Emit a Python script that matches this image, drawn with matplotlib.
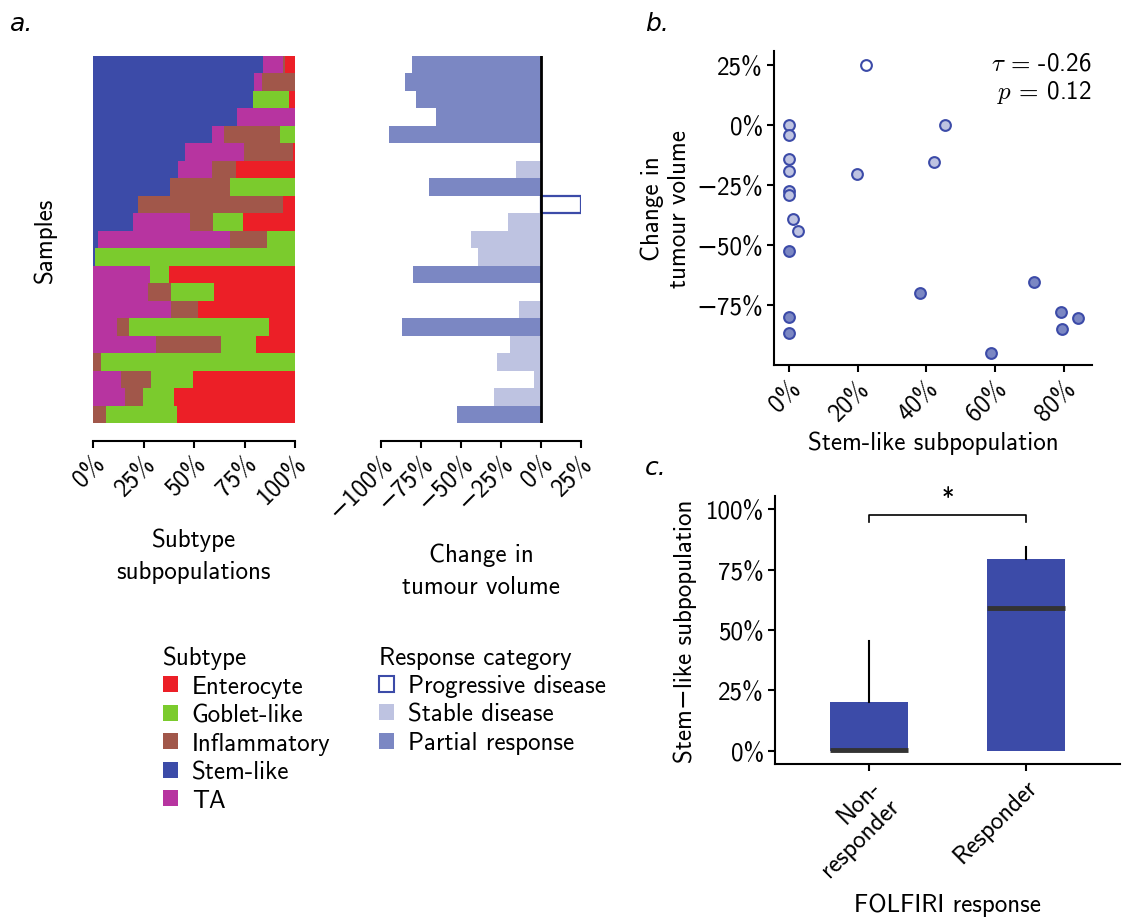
import numpy as np
import matplotlib
matplotlib.use("Agg")
import matplotlib.pyplot as plt
from matplotlib.patches import Patch
from matplotlib.ticker import FuncFormatter

plt.rcParams['font.family'] = ['cmss10', 'DejaVu Sans']
plt.rcParams['mathtext.fontset'] = 'cm'
plt.rcParams['axes.unicode_minus'] = True
plt.rcParams['font.size'] = 18

# Subtype composition per sample (%), top row first
stem_like    = [84.2, 79.7, 79.2, 71.3, 58.9, 45.5, 42.1, 38.1, 22.3, 19.8, 2.5, 1.0, 0, 0, 0, 0, 0, 0, 0, 0, 0]
ta           = [9.9, 4.0, 0, 28.7, 6.0, 29.3, 16.8, 0, 0, 28.2, 65.3, 0, 28.2, 27.4, 38.6, 11.9, 31.2, 0, 13.9, 15.8, 0]
inflammatory = [0.9, 16.3, 0, 0, 27.7, 24.2, 11.9, 29.7, 71.8, 11.4, 18.3, 0, 0, 11.2, 13.4, 5.9, 32.2, 4.0, 14.8, 9.0, 6.4]
goblet_like  = [0, 0, 17.8, 0, 7.4, 0, 0, 32.2, 0, 14.9, 13.9, 99.0, 9.4, 21.3, 0, 69.3, 17.3, 96.0, 20.8, 15.3, 35.2]
enterocyte   = [5.0, 0, 3.0, 0, 0, 1.0, 29.2, 0, 5.9, 25.7, 0, 0, 62.4, 40.1, 48.0, 12.9, 19.3, 0, 50.5, 59.9, 58.4]

# Change in tumour volume (%) and RECIST response per sample
volume_change = [-80.4, -84.8, -78.0, -65.4, -94.8, 0, -15.4, -69.8, 25, -20.4, -44, -39.2,
                 -79.8, 0, -14, -86.7, -19.2, -27.3, -4.2, -29.2, -52.3]
response = ['PR', 'PR', 'PR', 'PR', 'PR', 'SD', 'SD', 'PR', 'PD', 'SD', 'SD', 'SD',
            'PR', 'SD', 'SD', 'PR', 'SD', 'SD', 'SD', 'SD', 'PR']

subtype_names = ['Enterocyte', 'Goblet-like', 'Inflammatory', 'Stem-like', 'TA']
subtype_colors = {'Enterocyte': '#ec1f27', 'Goblet-like': '#7bcb2d', 'Inflammatory': '#a1574a',
                  'Stem-like': '#3c4ba8', 'TA': '#b734a0'}
response_names = {'PD': 'Progressive disease', 'SD': 'Stable disease', 'PR': 'Partial response'}
response_fill = {'PD': 'white', 'SD': '#bec3e1', 'PR': '#7b87c3'}
edge_blue = '#3c4ba8'
group_labels = ['Non-\nresponder', 'Responder']

W, H = 1122, 920
fig = plt.figure(figsize=(W / 100, H / 100), dpi=100)


def px_axes(x0, y0, x1, y1):
    return fig.add_axes([x0 / W, 1 - y1 / H, (x1 - x0) / W, (y1 - y0) / H])


def rotate_xticklabels(ax):
    for lab in ax.get_xticklabels():
        lab.set_rotation(45)
        lab.set_ha('right')
        lab.set_va('top')
        lab.set_rotation_mode('anchor')


pct = FuncFormatter(lambda v, p: f"{v:.0f}%".replace('-', '\u2212'))
n = len(stem_like)
rows = np.arange(n)

# ---- a. stacked subtype composition ----
ax1 = px_axes(93, 57, 295, 424)
stack = [('Stem-like', stem_like), ('TA', ta), ('Inflammatory', inflammatory),
         ('Goblet-like', goblet_like), ('Enterocyte', enterocyte)]
left = np.zeros(n)
for name, vals in stack:
    vals = np.array(vals, dtype=float)
    ax1.barh(rows, vals, left=left, height=1.0, color=subtype_colors[name], linewidth=0)
    left += vals
ax1.set_ylim(n - 0.5, -0.5)
ax1.set_xlim(0, 100)
ax1.set_xticks([0, 25, 50, 75, 100])
ax1.xaxis.set_major_formatter(pct)
ax1.set_yticks([])
ax1.set_ylabel('Samples', labelpad=26)
ax1.set_xlabel('Subtype\nsubpopulations', labelpad=14, linespacing=1.5)

# ---- a. waterfall of volume change ----
ax2 = px_axes(381, 57, 581, 424)
for i, (v, r) in enumerate(zip(volume_change, response)):
    if r == 'PD':
        ax2.barh(i, v, height=1.0, facecolor='white', edgecolor=edge_blue, linewidth=1.6)
    else:
        ax2.barh(i, v, height=1.0, color=response_fill[r], linewidth=0)
ax2.axvline(0, color='black', linewidth=2)
ax2.set_ylim(n - 0.5, -0.5)
ax2.set_xlim(-100, 25)
ax2.set_xticks([-100, -75, -50, -25, 0, 25])
ax2.xaxis.set_major_formatter(pct)
ax2.set_yticks([])
ax2.set_xlabel('Change in\ntumour volume', labelpad=14, linespacing=1.5)

for ax in (ax1, ax2):
    for s in ('top', 'right', 'left'):
        ax.spines[s].set_visible(False)
    ax.spines['bottom'].set_position(('outward', 13))
    ax.spines['bottom'].set_linewidth(1.5)
    ax.tick_params(axis='x', length=5, width=1.5, pad=2)
    rotate_xticklabels(ax)

# ---- b. scatter ----
ax3 = px_axes(774, 52, 1092, 366)
for r in ('SD', 'PR', 'PD'):
    idx = [i for i in range(n) if response[i] == r]
    ax3.scatter([stem_like[i] for i in idx], [volume_change[i] for i in idx],
                s=60, facecolor=response_fill[r], edgecolor=edge_blue, linewidth=1.5, zorder=3)
ax3.set_xlim(-4.4, 88.3)
ax3.set_ylim(-100, 31)
ax3.set_xticks([0, 20, 40, 60, 80])
ax3.set_yticks([-75, -50, -25, 0, 25])
ax3.xaxis.set_major_formatter(pct)
ax3.yaxis.set_major_formatter(pct)
ax3.set_xlabel('Stem-like subpopulation', labelpad=4)
ax3.set_ylabel('Change in\ntumour volume', labelpad=4)
ax3.text(1.0, 1.0, '$\\tau$ = -0.26\n$p$ = 0.12', transform=ax3.transAxes,
         ha='right', va='top', fontsize=18, linespacing=1.2)
rotate_xticklabels(ax3)

# ---- c. boxplot ----
ax4 = px_axes(775, 497, 1120, 765)
non_resp = [s for s, r in zip(stem_like, response) if r != 'PR']
resp = [s for s, r in zip(stem_like, response) if r == 'PR']
bp = ax4.boxplot([non_resp, resp], positions=[0, 1], widths=0.5, patch_artist=True,
                 showcaps=False, showfliers=False,
                 boxprops=dict(facecolor=edge_blue, edgecolor=edge_blue, linewidth=0),
                 medianprops=dict(color='#333333', linewidth=3.5),
                 whiskerprops=dict(color='black', linewidth=1.5))
ax4.set_xlim(-0.6, 1.6)
ax4.set_ylim(-5.4, 105.4)
ax4.set_yticks([0, 25, 50, 75, 100])
ax4.yaxis.set_major_formatter(pct)
ax4.set_xticks([0, 1])
ax4.set_xticklabels(group_labels)
rotate_xticklabels(ax4)
ax4.set_xlabel('FOLFIRI response', labelpad=8)
ax4.set_ylabel('Stem\u2212like subpopulation', labelpad=6)
ax4.plot([0, 0, 1, 1], [94.6, 97.5, 97.5, 94.6], color='black', linewidth=1.2, clip_on=False)
ax4.text(0.5, 99.5, '*', ha='center', va='bottom', fontsize=18)

for ax in (ax3, ax4):
    for s in ('top', 'right'):
        ax.spines[s].set_visible(False)
    for s in ('bottom', 'left'):
        ax.spines[s].set_linewidth(1.5)
    ax.tick_params(length=5, width=1.5, pad=3)

# ---- legends ----
legend_kw = dict(loc='upper left', frameon=False, alignment='left', handlelength=0.6,
                 handleheight=0.6, handletextpad=0.55, labelspacing=0.22, fontsize=18,
                 title_fontsize=18, borderpad=0, borderaxespad=0)
sub_handles = [Patch(facecolor=subtype_colors[k], edgecolor='none', label=k) for k in subtype_names]
fig.legend(handles=sub_handles, title='Subtype', bbox_to_anchor=(163 / W, 1 - 647 / H), **legend_kw)
resp_handles = [Patch(facecolor=response_fill[k], edgecolor=edge_blue if k == 'PD' else 'none',
                      linewidth=1.5, label=response_names[k]) for k in ('PD', 'SD', 'PR')]
fig.legend(handles=resp_handles, title='Response category',
           bbox_to_anchor=(379 / W, 1 - 647 / H), **legend_kw)

# ---- panel letters ----
for letter, (x, y) in {'a.': (10, 31), 'b.': (645, 31), 'c.': (645, 475)}.items():
    fig.text(x / W, 1 - y / H, letter, fontsize=18, style='italic', family='DejaVu Sans')

fig.savefig('out.png', dpi=100)
